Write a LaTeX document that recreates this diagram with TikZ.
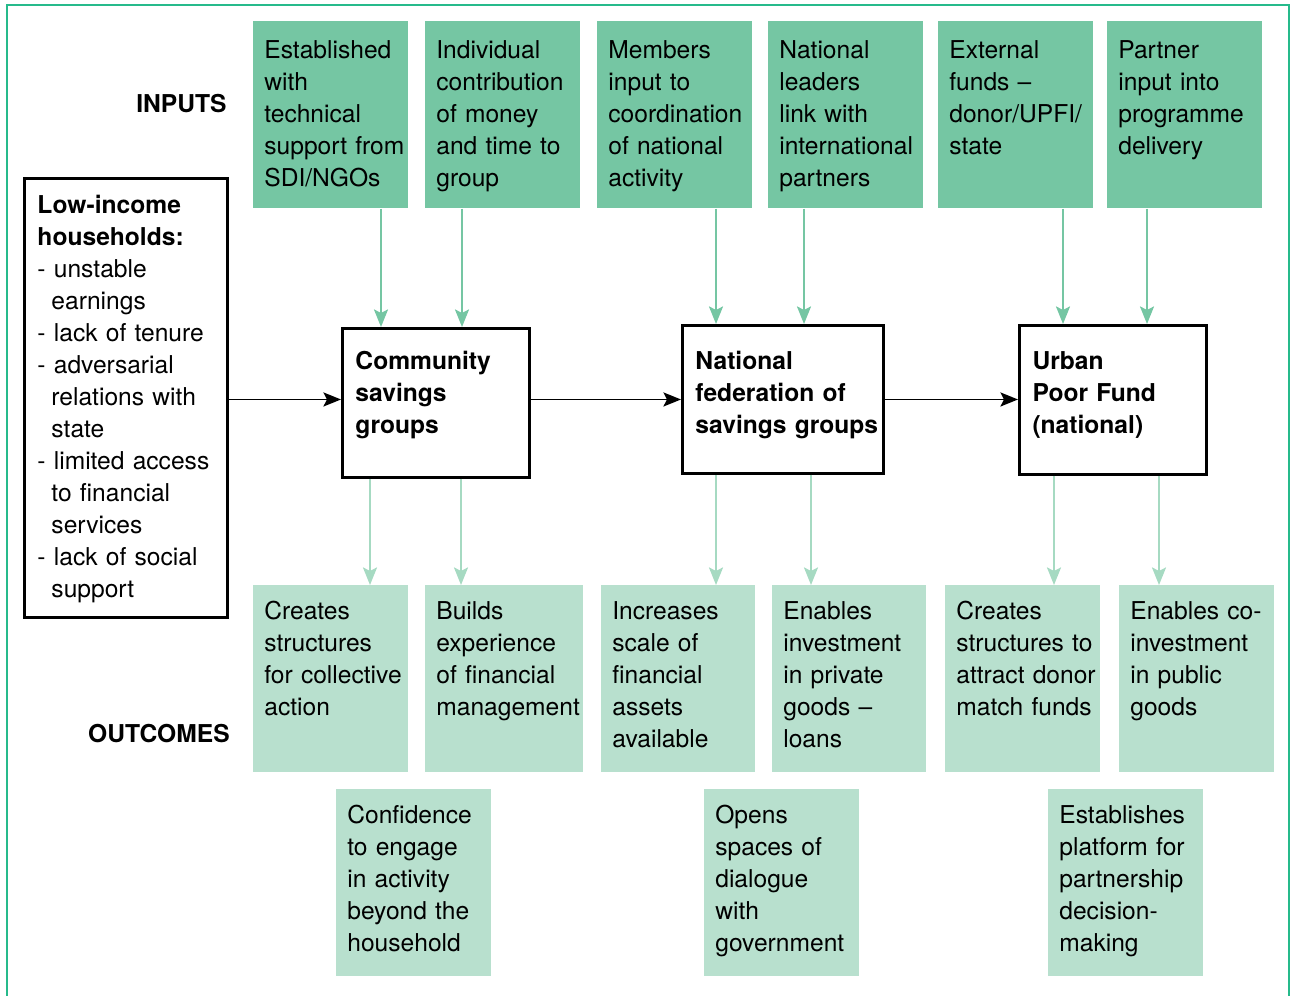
\documentclass[tikz,border=0pt]{standalone}
\usepackage{fontspec}
\setmainfont{TeX Gyre Heros}
\usetikzlibrary{arrows.meta}

\definecolor{frameGreen}{RGB}{38,186,139}
\definecolor{inGreen}{RGB}{117,198,163}
\definecolor{outGreen}{RGB}{184,224,206}
\definecolor{outArrow}{RGB}{166,218,194}

\newcommand\diagFont{\fontsize{14pt}{18.2pt}\selectfont}
\newcommand\padText{0.22cm}
\newcommand\boxWd{3.1cm}
\newcommand\itemIndent{\hspace*{0.28cm}}

\tikzset{
  every node/.style={font=\diagFont},
  textbox/.style={anchor=north west, align=left, inner sep=0pt, text width=#1, execute at begin node={\leftskip=\padText}},
  inbox/.style={textbox=#1, fill=inGreen, text height=0.74cm, text depth=3.0cm},
  inbox/.default=\boxWd,
  outbox/.style={textbox=#1, fill=outGreen, text height=0.68cm, text depth=3.06cm},
  outbox/.default=\boxWd,
  keybox/.style n args={3}{anchor=north west, align=left, inner sep=0pt, draw, line width=1.7pt, font=\diagFont\bfseries, text width=#1, text height=#2, text depth=#3, execute at begin node={\leftskip=0.26cm}},
  rowtitle/.style={anchor=east, inner sep=0pt, font=\diagFont\bfseries},
  mainarrow/.style={-{Stealth[length=10pt,width=8pt,inset=2pt]}, line width=1.1pt},
  inarrow/.style={mainarrow, inGreen},
  outarrow/.style={mainarrow, outArrow},
}

\begin{document}
\begin{tikzpicture}[x=0.02cm, y=-0.02cm]
  \useasboundingbox (0,0) rectangle (1291,996);
  % frame, open at the bottom
  \draw[frameGreen, line width=1.4pt] (7,996) -- (7,5) -- (1289,5) -- (1289,996);

  % ROW TITLES
  \node[rowtitle] (inputs) at (227,104) {INPUTS};
  \node[rowtitle] (outcomes) at (230,734) {OUTCOMES};

  % INPUTS
  \node[inbox] (in1) at (253,21) {Established\\with\\technical\\support from\\SDI/NGOs};
  \node[inbox] (in2) at (425,21) {Individual\\contribution\\of money\\and time to\\group};
  \node[inbox] (in3) at (597,21) {Members\\input to\\coordination\\of national\\activity};
  \node[inbox] (in4) at (768,21) {National\\leaders\\link with\\international\\partners};
  \node[inbox] (in5) at (938,21) {External\\funds --\\donor/UPFI/\\state};
  \node[inbox] (in6) at (1107,21) {Partner\\input into\\programme\\delivery};

  % HOUSEHOLDS
  \node[keybox={4.06cm}{0.70cm}{8.08cm}, font=\diagFont] (hh) at (23,177) {\textbf{Low-income}\\\textbf{households:}\\- unstable\\\itemIndent earnings\\- lack of tenure\\- adversarial\\\itemIndent relations with\\\itemIndent state\\- limited access\\\itemIndent to financial\\\itemIndent services\\- lack of social\\\itemIndent support};

  % KEY BOXES
  \node[keybox={3.74cm}{0.82cm}{2.16cm}] (cs) at (341,327) {Community\\savings\\groups};
  \node[keybox={4.02cm}{0.88cm}{2.08cm}] (nf) at (681,324) {National\\federation of\\savings groups};
  \node[keybox={3.74cm}{0.88cm}{2.10cm}] (upf) at (1018,324) {Urban\\Poor Fund\\(national)};

  % OUTCOMES
  \node[outbox] (out1) at (253,585) {Creates\\structures\\for collective\\action};
  \node[outbox=3.16cm] (out2) at (425,585) {Builds\\experience\\of financial\\management};
  \node[outbox=3.08cm] (out3) at (601,585) {Increases\\scale of\\financial\\assets\\available};
  \node[outbox=3.08cm] (out4) at (772,585) {Enables\\investment\\in private\\goods --\\loans};
  \node[outbox] (out5) at (945,585) {Creates\\structures to\\attract donor\\match funds};
  \node[outbox] (out6) at (1119,585) {Enables co-\\investment\\in public\\goods};
  \node[outbox] (out7) at (336,789) {Confidence\\to engage\\in activity\\beyond the\\household};
  \node[outbox] (out8) at (704,789) {Opens\\spaces of\\dialogue\\with\\government};
  \node[outbox] (out9) at (1048,789) {Establishes\\platform for\\partnership\\decision-\\making};

  % MAIN FLOW
  \draw[mainarrow] (hh.east |- nf.west) -- (cs.west |- nf.west);
  \draw[mainarrow] (cs.east |- nf.west) -- (nf.west);
  \draw[mainarrow] (nf.east) -- (nf.east -| upf.west);

  % inputs into the groups
  \foreach \src/\dst/\xx in {in1/cs/381, in2/cs/462, in3/nf/716, in4/nf/804, in5/upf/1063, in6/upf/1147}
    \draw[inarrow] (\src.south -| \xx,0) -- (\dst.north -| \xx,0);

  % outcomes of the groups
  \foreach \src/\dst/\xx in {cs/out1/370, cs/out2/461, nf/out3/716, nf/out4/811, upf/out5/1054, upf/out6/1159}
    \draw[outarrow] (\src.south -| \xx,0) -- (\dst.north -| \xx,0);
\end{tikzpicture}
\end{document}
